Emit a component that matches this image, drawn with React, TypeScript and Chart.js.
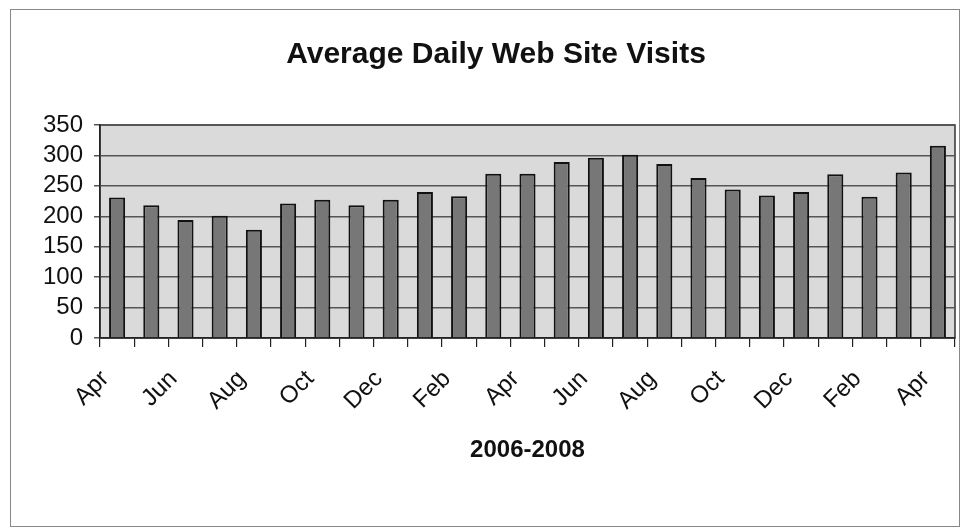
import React, { useEffect, useRef } from "react";
import { Chart, registerables } from "chart.js";

Chart.register(...registerables);

const months = [
  "Apr", "May", "Jun", "Jul", "Aug", "Sep", "Oct", "Nov", "Dec", "Jan", "Feb", "Mar",
  "Apr", "May", "Jun", "Jul", "Aug", "Sep", "Oct", "Nov", "Dec", "Jan", "Feb", "Mar", "Apr",
];
const visits = [
  231, 218, 194, 201, 178, 221, 227, 218, 227, 240, 233, 270,
  270, 289, 296, 301, 286, 263, 244, 234, 240, 269, 232, 272, 316,
];
const yTicks = [0, 50, 100, 150, 200, 250, 300, 350];
const titleText = "Average Daily Web Site Visits";
const xTitleText = "2006-2008";

const FONT = "Liberation Sans, Arial, sans-serif";

const plotBg = {
  id: "plotBg",
  beforeDraw(chart: any) {
    const { ctx, chartArea } = chart;
    if (!chartArea) return;
    ctx.save();
    ctx.fillStyle = "#dadada";
    ctx.fillRect(chartArea.left, chartArea.top, chartArea.right - chartArea.left, chartArea.bottom - chartArea.top);
    ctx.strokeStyle = "#333";
    ctx.lineWidth = 1.5;
    ctx.strokeRect(chartArea.left, chartArea.top, chartArea.right - chartArea.left, chartArea.bottom - chartArea.top);
    ctx.restore();
  },
};

export default function App() {
  const ref = useRef<HTMLCanvasElement | null>(null);
  useEffect(() => {
    if (!ref.current) return;
    const chart = new Chart(ref.current, {
      type: "bar",
      data: {
        labels: months,
        datasets: [
          {
            data: visits,
            backgroundColor: "#777777",
            borderColor: "#111",
            borderWidth: 2,
            barPercentage: 0.47,
            categoryPercentage: 1,
          },
        ],
      },
      options: {
        responsive: false,
        animation: false,
        layout: { padding: { left: 37, right: 7, top: 0, bottom: 66 } },
        plugins: {
          legend: { display: false },
          tooltip: { enabled: false },
          title: {
            display: true,
            text: titleText,
            color: "#111",
            font: { family: FONT, size: 30, weight: "bold", lineHeight: 1.2 },
            padding: { top: 37, bottom: 52 },
          },
        },
        scales: {
          x: {
            offset: true,
            afterFit: (axis: any) => {
              axis.height = 127;
              axis.paddingLeft = 0;
              axis.paddingRight = 0;
            },
            grid: { offset: true, drawOnChartArea: false, drawTicks: true, tickLength: 9, color: "#222", lineWidth: 1.2 },
            border: { display: true, color: "#222", width: 1.5 },
            ticks: {
              autoSkip: false,
              maxRotation: 45,
              minRotation: 45,
              color: "#111",
              padding: 18,
              labelOffset: -12,
              font: { family: FONT, size: 24 },
              callback: (_v: any, i: number) => (i % 2 === 0 ? months[i] : ""),
            },
            title: {
              display: true,
              text: xTitleText,
              color: "#111",
              font: { family: FONT, size: 24, weight: "bold", lineHeight: 1.2 },
              padding: { top: 0, bottom: 0 },
            },
          },
          y: {
            min: 0,
            max: 350,
            afterFit: (axis: any) => {
              axis.width = 63;
              axis.paddingTop = 0;
              axis.paddingBottom = 0;
            },
            afterBuildTicks: (axis: any) => {
              axis.ticks = yTicks.map((v) => ({ value: v }));
            },
            grid: { color: "#555", lineWidth: 1.5, drawTicks: true, tickLength: 6 },
            border: { display: true, color: "#222", width: 1.5 },
            ticks: {
              autoSkip: false,
              color: "#111",
              padding: 11,
              font: { family: FONT, size: 24 },
            },
          },
        },
      },
      plugins: [plotBg],
    });
    return () => chart.destroy();
  }, []);
  return (
    <div style={{ position: "absolute", left: 0, top: 0, width: 962, height: 531, background: "#fff" }}>
      <div style={{ position: "absolute", left: 10, top: 9, width: 948, height: 516, border: "1px solid #888" }} />
      <canvas ref={ref} width={962} height={531} style={{ position: "absolute", left: 0, top: 0 }} />
    </div>
  );
}
